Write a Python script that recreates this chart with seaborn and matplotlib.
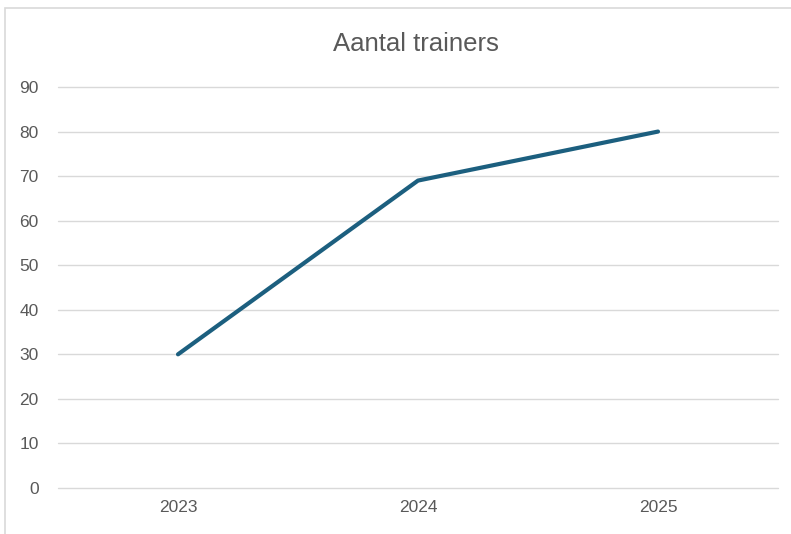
import matplotlib
matplotlib.use("Agg")
import matplotlib.pyplot as plt
import seaborn as sns
import pandas as pd
from matplotlib.patches import Rectangle
from matplotlib import font_manager

years = ["2023", "2024", "2025"]
trainers = [30, 69, 80]
yticks = [0, 10, 20, 30, 40, 50, 60, 70, 80, 90]
title = "Aantal trainers"

sns.set_theme(style="white")
names = {f.name for f in font_manager.fontManager.ttflist}
fam = "Liberation Sans Narrow" if "Liberation Sans Narrow" in names else "Liberation Sans"
plt.rcParams['font.family'] = [fam, 'DejaVu Sans']

df = pd.DataFrame({"year": years, "trainers": trainers})

fig = plt.figure(figsize=(7.91, 5.34), dpi=100)
ax = fig.add_axes([58/791, 1-488/534, (778-58)/791, (488-87)/534])

sns.lineplot(data=df, x="year", y="trainers", ax=ax, color="#1c5f7f", linewidth=3.0, sort=False)

ax.set_xlim(-0.5, 2.5)
ax.set_ylim(0, 90)
ax.set_yticks(yticks)
ax.set_yticklabels([str(v) for v in yticks])
ax.yaxis.grid(True, color="#d9d9d9", linewidth=1.0)
for gl in ax.get_ygridlines():
    gl.set_clip_on(False)
ax.xaxis.grid(False)
for s in ax.spines.values():
    s.set_visible(False)
ax.set_xlabel("")
ax.set_ylabel("")
ax.tick_params(axis="both", length=0, labelsize=12.5, labelcolor="#595959")
ax.tick_params(axis="y", pad=14)
ax.tick_params(axis="x", pad=9)
ax.set_axisbelow(True)

fig.text(0.5*(58+778)/791 - 0.003, 1-44/534, title, ha="center", va="center", fontsize=18.5, color="#595959")

# chart border
fig.patches.append(Rectangle((5/791, -0.1), 1.2, 1-8/534+0.1, transform=fig.transFigure,
                             fill=False, edgecolor="#d9d9d9", linewidth=1.2))

fig.savefig("out.png", dpi=100)
